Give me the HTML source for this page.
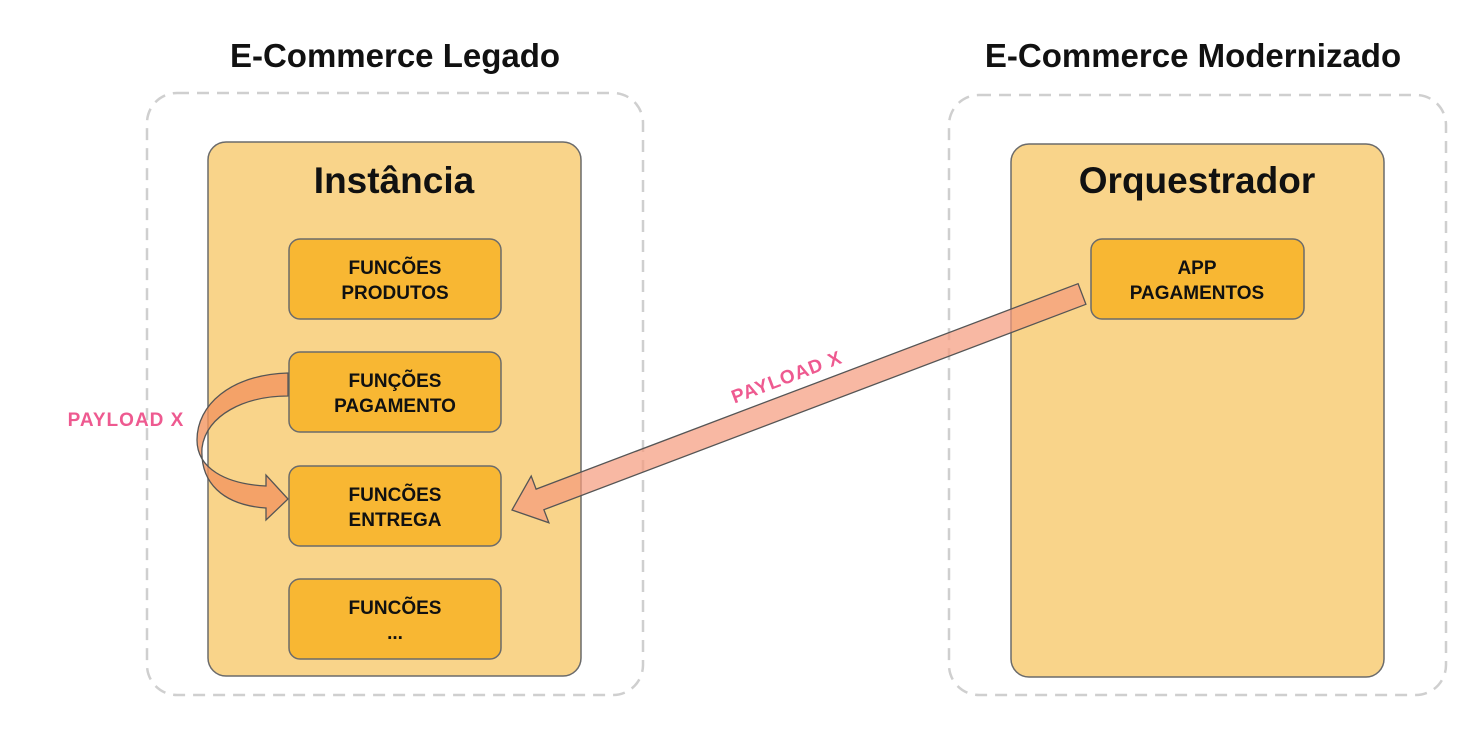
<!DOCTYPE html>
<html><head><meta charset="utf-8"><style>
html,body{margin:0;padding:0;background:#fff;width:1483px;height:731px;overflow:hidden}
svg text{font-family:"Liberation Sans",Arial,sans-serif;font-weight:bold}
</style></head><body>
<svg width="1483" height="731" viewBox="0 0 1483 731" xmlns="http://www.w3.org/2000/svg">
<text x="395" y="67" font-size="33" text-anchor="middle" fill="#111">E-Commerce Legado</text>
<text x="1193" y="67" font-size="33" text-anchor="middle" fill="#111">E-Commerce Modernizado</text>
<rect x="147" y="93" width="496" height="602" rx="30" fill="none" stroke="#cfcfcf" stroke-width="2.5" stroke-dasharray="12,8"/>
<rect x="949" y="95" width="497" height="600" rx="30" fill="none" stroke="#cfcfcf" stroke-width="2.5" stroke-dasharray="12,8"/>
<rect x="208" y="142" width="373" height="534" rx="18" fill="#f9d48a" stroke="#6b6b6b" stroke-width="1.5"/>
<rect x="1011" y="144" width="373" height="533" rx="18" fill="#f9d48a" stroke="#6b6b6b" stroke-width="1.5"/>
<text x="394" y="193" font-size="37" text-anchor="middle" fill="#111">Instância</text>
<text x="1197" y="193" font-size="37" text-anchor="middle" fill="#111">Orquestrador</text>
<g fill="#f8b733" stroke="#6b6b6b" stroke-width="1.5">
<rect x="289" y="239" width="212" height="80" rx="11"/>
<rect x="289" y="352" width="212" height="80" rx="11"/>
<rect x="289" y="466" width="212" height="80" rx="11"/>
<rect x="289" y="579" width="212" height="80" rx="11"/>
<rect x="1091" y="239" width="213" height="80" rx="11"/>
</g>
<g font-size="19" text-anchor="middle" fill="#111">
<text x="395" y="274">FUNCÕES</text><text x="395" y="299">PRODUTOS</text>
<text x="395" y="387">FUNÇÕES</text><text x="395" y="412">PAGAMENTO</text>
<text x="395" y="501">FUNCÕES</text><text x="395" y="526">ENTREGA</text>
<text x="395" y="614">FUNCÕES</text><text x="395" y="639">...</text>
<text x="1197" y="274">APP</text><text x="1197" y="299">PAGAMENTOS</text>
</g>
<path d="M288,373 C230,375 197,405 197,440 C197,468 225,484 266,486 L266,475 L288,499 L266,520 L266,508 C222,505 200,482 202,448 C206,415 245,396 288,396 Z" fill="#f3955f" fill-opacity="0.8" stroke="#555" stroke-width="1.3"/>
<polygon points="1078.1,283.7 1085.9,304.3 543.9,509.7 548.9,522.8 512,510 531.2,476 536.1,489.1" fill="#f59a7c" fill-opacity="0.7" stroke="#555" stroke-width="1.3"/>
<text x="126" y="426" font-size="19" text-anchor="middle" fill="#ee5a90" letter-spacing="1">PAYLOAD  X</text>
<text x="0" y="0" font-size="19" text-anchor="middle" fill="#ee5a90" letter-spacing="1" transform="translate(789,383) rotate(-20.7)">PAYLOAD  X</text>
</svg>
</body></html>
